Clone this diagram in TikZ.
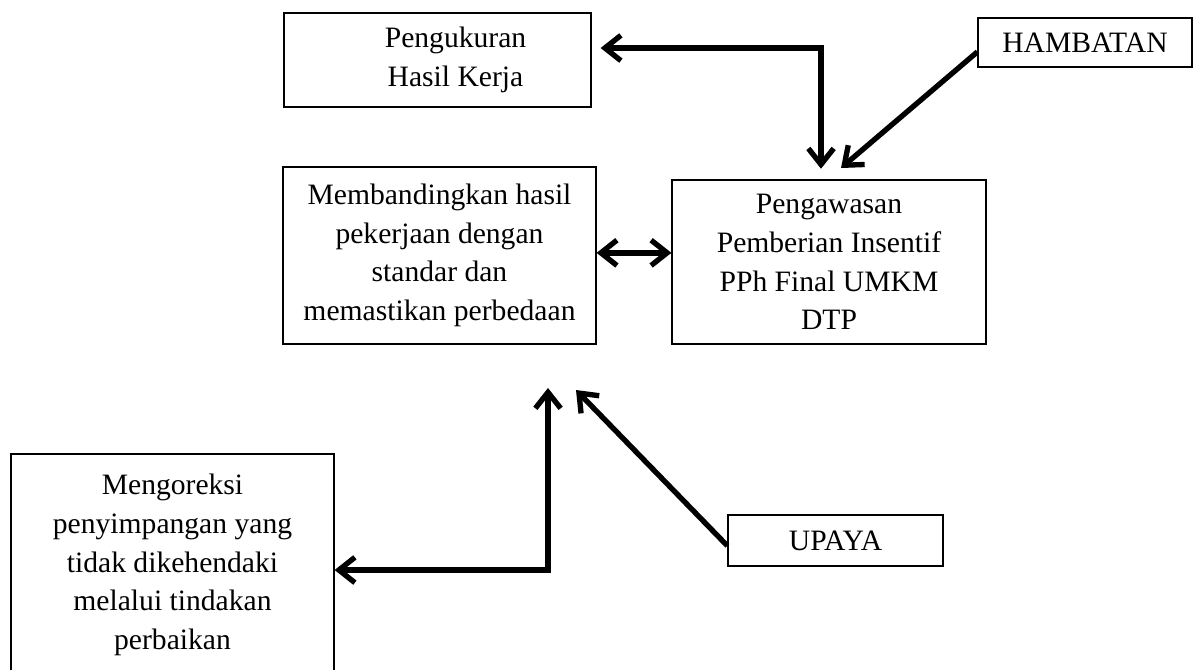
\documentclass[tikz,border=0pt]{standalone}
\usepackage{fontspec}
\setmainfont{Liberation Serif}
\usetikzlibrary{arrows.meta}
\tikzset{
  box/.style={draw, line width=0.9pt, inner sep=0pt, align=center,
    font=\fontsize{22.2}{29}\selectfont},
  conn/.style={line width=4pt, -{Straight Barb[length=12pt,width=19pt]}},
  conn2/.style={line width=4pt,
    {Straight Barb[length=12pt,width=19pt]}-{Straight Barb[length=12pt,width=19pt]}}
}

\begin{document}
\begin{tikzpicture}[x=0.75pt,y=-0.75pt]
  \useasboundingbox (0,0) rectangle (1198,669);
  \clip (0,0) rectangle (1198,669);
  % boxes
  \node[box, minimum width=230.25pt, minimum height=70.5pt] (pengukuran) at (437.5,60)
    {\hspace*{27pt}Pengukuran\\\hspace*{27pt}Hasil Kerja};
  \node[box, minimum width=160.5pt, minimum height=36.75pt] (hambatan) at (1085,42.5) {HAMBATAN};
  \node[box, minimum width=234.75pt, minimum height=132.75pt] (membandingkan) at (439.5,255.5)
    {Membandingkan hasil\\pekerjaan dengan\\standar dan\\memastikan perbedaan};
  \node[box, minimum width=235.5pt, minimum height=123pt] (pengawasan) at (829,262)
    {Pengawasan\\Pemberian Insentif\\PPh Final UMKM\\DTP};
  \node[box, minimum width=242.25pt, minimum height=166.5pt] (mengoreksi) at (172.5,565)
    {Mengoreksi\\penyimpangan yang\\tidak dikehendaki\\melalui tindakan\\perbaikan};
  \node[box, minimum width=161.25pt, minimum height=38.25pt] (upaya) at (835.5,540.5) {UPAYA};
  % connectors
  \coordinate (ukursudut) at (821,48);
  \coordinate (hambujung) at (841,168);
  \coordinate (koreksisudut) at (548,570);
  \coordinate (koreksiatas) at (548,388);
  \coordinate (upayaujung) at (576,390);
  \draw[conn2, shorten <=6.75pt, shorten >=8pt]
    (pengukuran.east |- ukursudut) -- (ukursudut) -- (ukursudut |- pengawasan.north);
  \draw[conn] ([yshift=-7pt]hambatan.west) -- (hambujung);
  \draw[conn2] ([yshift=2pt]membandingkan.east) -- ([yshift=2pt]membandingkan.east -| pengawasan.west);
  \draw[conn2] (koreksiatas) -- (koreksisudut) -- (koreksisudut -| mengoreksi.east);
  \draw[conn] ([yshift=-4pt]upaya.west) -- (upayaujung);
\end{tikzpicture}
\end{document}
